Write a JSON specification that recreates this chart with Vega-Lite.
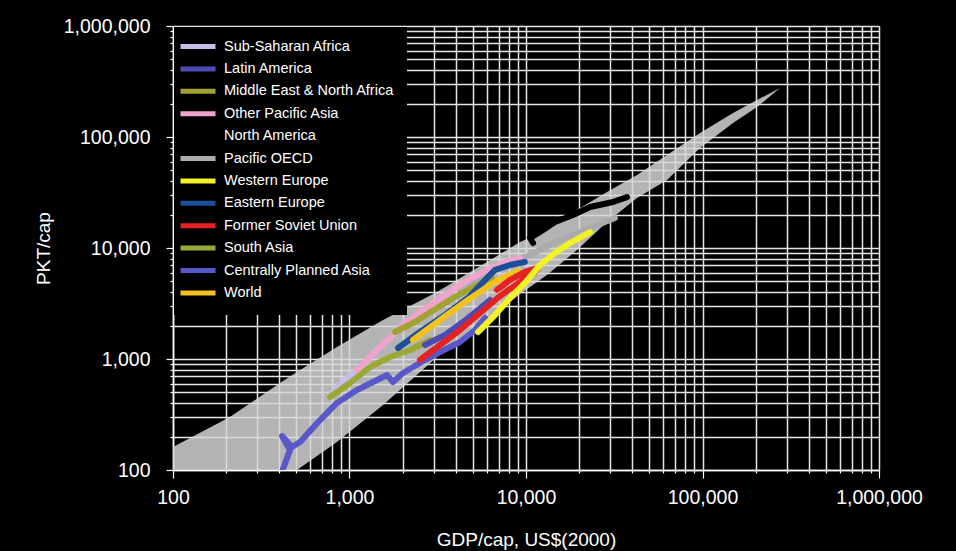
{
  "$schema": "https://vega.github.io/schema/vega-lite/v6.json",
  "width": 706,
  "height": 444,
  "autosize": {"type": "none"},
  "padding": {"left": 173, "top": 26, "right": 77, "bottom": 81},
  "background": "#000000",
  "config": {"view": {"stroke": null}, "font": "Liberation Sans"},
  "datasets": {
    "band": [
      {"gdp": 100, "hi": 161, "lo": 100},
      {"gdp": 210, "hi": 300, "lo": 100},
      {"gdp": 404, "hi": 608, "lo": 100},
      {"gdp": 504, "hi": 764, "lo": 100},
      {"gdp": 849, "hi": 1283, "lo": 179},
      {"gdp": 1549, "hi": 2246, "lo": 385},
      {"gdp": 3130, "hi": 4014, "lo": 1042},
      {"gdp": 6010, "hi": 7480, "lo": 2199},
      {"gdp": 9250, "hi": 11320, "lo": 3850},
      {"gdp": 13150, "hi": 14520, "lo": 5710},
      {"gdp": 19450, "hi": 21990, "lo": 9590},
      {"gdp": 28770, "hi": 31970, "lo": 17150},
      {"gdp": 42560, "hi": 45480, "lo": 28200},
      {"gdp": 62950, "hi": 68860, "lo": 41000},
      {"gdp": 96800, "hi": 108600, "lo": 79600},
      {"gdp": 148900, "hi": 164500, "lo": 133700},
      {"gdp": 203700, "hi": 215400, "lo": 186200},
      {"gdp": 274800, "hi": 276300, "lo": 276300}
    ],
    "lines": [
      {"region": "Pacific OECD", "i": 1, "gdp": 4820, "pkt": 4645},
      {"region": "Pacific OECD", "i": 2, "gdp": 7130, "pkt": 6610},
      {"region": "Pacific OECD", "i": 3, "gdp": 10540, "pkt": 8650},
      {"region": "Pacific OECD", "i": 4, "gdp": 15600, "pkt": 11800},
      {"region": "Pacific OECD", "i": 5, "gdp": 23070, "pkt": 15140},
      {"region": "Pacific OECD", "i": 6, "gdp": 31900, "pkt": 18620},

      {"region": "North America", "i": 1, "gdp": 10960, "pkt": 11090},
      {"region": "North America", "i": 2, "gdp": 10540, "pkt": 12300},
      {"region": "North America", "i": 3, "gdp": 12000, "pkt": 13930},
      {"region": "North America", "i": 4, "gdp": 14600, "pkt": 17150},
      {"region": "North America", "i": 5, "gdp": 18460, "pkt": 19800},
      {"region": "North America", "i": 6, "gdp": 23070, "pkt": 23390},
      {"region": "North America", "i": 7, "gdp": 31120, "pkt": 25940},
      {"region": "North America", "i": 8, "gdp": 37320, "pkt": 28770},

      {"region": "Sub-Saharan Africa", "i": 1, "gdp": 776, "pkt": 474},
      {"region": "Sub-Saharan Africa", "i": 2, "gdp": 944, "pkt": 647},
      {"region": "Sub-Saharan Africa", "i": 3, "gdp": 1146, "pkt": 829},
      {"region": "Sub-Saharan Africa", "i": 4, "gdp": 1393, "pkt": 1156},
      {"region": "Sub-Saharan Africa", "i": 5, "gdp": 1694, "pkt": 1545},
      {"region": "Sub-Saharan Africa", "i": 6, "gdp": 2060, "pkt": 2154},

      {"region": "South Asia", "i": 1, "gdp": 776, "pkt": 455},
      {"region": "South Asia", "i": 2, "gdp": 1006, "pkt": 608},
      {"region": "South Asia", "i": 3, "gdp": 1306, "pkt": 847},
      {"region": "South Asia", "i": 4, "gdp": 1694, "pkt": 1042},
      {"region": "South Asia", "i": 5, "gdp": 2203, "pkt": 1206},
      {"region": "South Asia", "i": 6, "gdp": 2858, "pkt": 1483},

      {"region": "Other Pacific Asia", "i": 1, "gdp": 1102, "pkt": 796},
      {"region": "Other Pacific Asia", "i": 2, "gdp": 1489, "pkt": 1283},
      {"region": "Other Pacific Asia", "i": 3, "gdp": 2009, "pkt": 2024},
      {"region": "Other Pacific Asia", "i": 4, "gdp": 2970, "pkt": 3200},
      {"region": "Other Pacific Asia", "i": 5, "gdp": 4395, "pkt": 4840},
      {"region": "Other Pacific Asia", "i": 6, "gdp": 6010, "pkt": 6340},
      {"region": "Other Pacific Asia", "i": 7, "gdp": 7410, "pkt": 7330},
      {"region": "Other Pacific Asia", "i": 8, "gdp": 9250, "pkt": 8130},

      {"region": "Middle East & North Africa", "i": 1, "gdp": 1811, "pkt": 1750},
      {"region": "Middle East & North Africa", "i": 2, "gdp": 2350, "pkt": 2154},
      {"region": "Middle East & North Africa", "i": 3, "gdp": 3130, "pkt": 2877},
      {"region": "Middle East & North Africa", "i": 4, "gdp": 4227, "pkt": 3853},
      {"region": "Middle East & North Africa", "i": 5, "gdp": 5480, "pkt": 4740},
      {"region": "Middle East & North Africa", "i": 6, "gdp": 6410, "pkt": 5370},

      {"region": "Eastern Europe", "i": 1, "gdp": 1884, "pkt": 1256},
      {"region": "Eastern Europe", "i": 2, "gdp": 2506, "pkt": 1750},
      {"region": "Eastern Europe", "i": 3, "gdp": 3475, "pkt": 2490},
      {"region": "Eastern Europe", "i": 4, "gdp": 4690, "pkt": 3548},
      {"region": "Eastern Europe", "i": 5, "gdp": 5860, "pkt": 5150},
      {"region": "Eastern Europe", "i": 6, "gdp": 6670, "pkt": 6340},
      {"region": "Eastern Europe", "i": 7, "gdp": 8110, "pkt": 7030},
      {"region": "Eastern Europe", "i": 8, "gdp": 9860, "pkt": 7480},

      {"region": "Centrally Planned Asia", "i": 1, "gdp": 420, "pkt": 102},
      {"region": "Centrally Planned Asia", "i": 2, "gdp": 460, "pkt": 151},
      {"region": "Centrally Planned Asia", "i": 3, "gdp": 415, "pkt": 202},
      {"region": "Centrally Planned Asia", "i": 4, "gdp": 472, "pkt": 161},
      {"region": "Centrally Planned Asia", "i": 5, "gdp": 525, "pkt": 179},
      {"region": "Centrally Planned Asia", "i": 6, "gdp": 597, "pkt": 224},
      {"region": "Centrally Planned Asia", "i": 7, "gdp": 681, "pkt": 282},
      {"region": "Centrally Planned Asia", "i": 8, "gdp": 849, "pkt": 402},
      {"region": "Centrally Planned Asia", "i": 9, "gdp": 1102, "pkt": 526},
      {"region": "Centrally Planned Asia", "i": 10, "gdp": 1432, "pkt": 647},
      {"region": "Centrally Planned Asia", "i": 11, "gdp": 1630, "pkt": 718},
      {"region": "Centrally Planned Asia", "i": 12, "gdp": 1762, "pkt": 621},
      {"region": "Centrally Planned Asia", "i": 13, "gdp": 2009, "pkt": 748},
      {"region": "Centrally Planned Asia", "i": 14, "gdp": 2506, "pkt": 921},
      {"region": "Centrally Planned Asia", "i": 15, "gdp": 3260, "pkt": 1156},
      {"region": "Centrally Planned Asia", "i": 16, "gdp": 4227, "pkt": 1422},
      {"region": "Centrally Planned Asia", "i": 17, "gdp": 5140, "pkt": 1824},
      {"region": "Centrally Planned Asia", "i": 18, "gdp": 5860, "pkt": 2340},

      {"region": "Latin America", "i": 1, "gdp": 2680, "pkt": 1337},
      {"region": "Latin America", "i": 2, "gdp": 3475, "pkt": 1644},
      {"region": "Latin America", "i": 3, "gdp": 4395, "pkt": 2154},
      {"region": "Latin America", "i": 4, "gdp": 5345, "pkt": 2762},
      {"region": "Latin America", "i": 5, "gdp": 6250, "pkt": 3404},

      {"region": "World", "i": 1, "gdp": 2290, "pkt": 1483},
      {"region": "World", "i": 2, "gdp": 3260, "pkt": 2246},
      {"region": "World", "i": 3, "gdp": 4510, "pkt": 3268},
      {"region": "World", "i": 4, "gdp": 6250, "pkt": 4645},
      {"region": "World", "i": 5, "gdp": 7600, "pkt": 5480},
      {"region": "World", "i": 6, "gdp": 9020, "pkt": 6210},

      {"region": "Former Soviet Union", "i": 1, "gdp": 2506, "pkt": 979},
      {"region": "Former Soviet Union", "i": 2, "gdp": 3260, "pkt": 1337},
      {"region": "Former Soviet Union", "i": 3, "gdp": 4227, "pkt": 1824},
      {"region": "Former Soviet Union", "i": 4, "gdp": 5480, "pkt": 2594},
      {"region": "Former Soviet Union", "i": 5, "gdp": 7130, "pkt": 3698},
      {"region": "Former Soviet Union", "i": 6, "gdp": 9250, "pkt": 4943},
      {"region": "Former Soviet Union", "i": 7, "gdp": 11250, "pkt": 6080},
      {"region": "Former Soviet Union", "i": 8, "gdp": 11690, "pkt": 6610},
      {"region": "Former Soviet Union", "i": 9, "gdp": 9860, "pkt": 6080},
      {"region": "Former Soviet Union", "i": 10, "gdp": 8110, "pkt": 5150},
      {"region": "Former Soviet Union", "i": 11, "gdp": 6850, "pkt": 4190},

      {"region": "Western Europe", "i": 1, "gdp": 5345, "pkt": 1750},
      {"region": "Western Europe", "i": 2, "gdp": 6670, "pkt": 2490},
      {"region": "Western Europe", "i": 3, "gdp": 8110, "pkt": 3548},
      {"region": "Western Europe", "i": 4, "gdp": 9860, "pkt": 4840},
      {"region": "Western Europe", "i": 5, "gdp": 12000, "pkt": 7030},
      {"region": "Western Europe", "i": 6, "gdp": 14600, "pkt": 9020},
      {"region": "Western Europe", "i": 7, "gdp": 17740, "pkt": 11090},
      {"region": "Western Europe", "i": 8, "gdp": 23070, "pkt": 13930}
    ]
  },
  "layer": [
    {
      "data": {"name": "band"},
      "mark": {"type": "area", "color": "#d6d6d6", "opacity": 0.84, "clip": true},
      "encoding": {
        "x": {
          "field": "gdp", "type": "quantitative",
          "scale": {"type": "log", "domain": [100, 1000000]},
          "axis": {
            "title": "GDP/cap, US$(2000)",
            "values": [100,200,300,400,500,600,700,800,900,1000,2000,3000,4000,5000,6000,7000,8000,9000,10000,20000,30000,40000,50000,60000,70000,80000,90000,100000,200000,300000,400000,500000,600000,700000,800000,900000,1000000],
            "labelExpr": "indexof([100,1000,10000,100000,1000000], datum.value) >= 0 ? format(datum.value, ',') : ''",
            "labelOverlap": false, "labelFlush": false,
            "grid": true, "gridColor": "#e6e6e6", "gridWidth": 1.5, "gridOpacity": 1,
            "domainColor": "#ffffff", "domainWidth": 1.5,
            "tickColor": "#ffffff", "tickWidth": 1.2,
            "tickSize": {"condition": {"test": "indexof([100,1000,10000,100000,1000000], datum.value) >= 0", "value": 8}, "value": 3},
            "labelColor": "#ffffff", "labelFontSize": 19.5, "labelPadding": 10,
            "titleColor": "#ffffff", "titleFontSize": 19, "titleFontWeight": "normal", "titlePadding": 24
          }
        },
        "y": {
          "field": "hi", "type": "quantitative",
          "scale": {"type": "log", "domain": [100, 1000000]},
          "axis": {
            "title": "PKT/cap",
            "values": [100,200,300,400,500,600,700,800,900,1000,2000,3000,4000,5000,6000,7000,8000,9000,10000,20000,30000,40000,50000,60000,70000,80000,90000,100000,200000,300000,400000,500000,600000,700000,800000,900000,1000000],
            "labelExpr": "indexof([100,1000,10000,100000,1000000], datum.value) >= 0 ? format(datum.value, ',') : ''",
            "labelOverlap": false, "labelFlush": false,
            "grid": true, "gridColor": "#e6e6e6", "gridWidth": 1.5, "gridOpacity": 1,
            "domainColor": "#ffffff", "domainWidth": 1.5,
            "tickColor": "#ffffff", "tickWidth": 1.2,
            "tickSize": {"condition": {"test": "indexof([100,1000,10000,100000,1000000], datum.value) >= 0", "value": 7}, "value": 3},
            "labelColor": "#ffffff", "labelFontSize": 19.5, "labelPadding": 16,
            "titleColor": "#ffffff", "titleFontSize": 19, "titleFontWeight": "normal", "titlePadding": 10
          }
        },
        "y2": {"field": "lo"}
      }
    },
    {
      "data": {"name": "lines"},
      "mark": {"type": "line", "strokeWidth": 6, "strokeCap": "round", "strokeJoin": "round", "clip": true},
      "encoding": {
        "x": {"field": "gdp", "type": "quantitative"},
        "y": {"field": "pkt", "type": "quantitative"},
        "order": {"field": "i"},
        "color": {
          "field": "region", "type": "nominal",
          "scale": {
            "domain": ["Sub-Saharan Africa", "Latin America", "Middle East & North Africa", "Other Pacific Asia", "North America", "Pacific OECD", "Western Europe", "Eastern Europe", "Former Soviet Union", "South Asia", "Centrally Planned Asia", "World"],
            "range": ["#c8bce8", "#4c4cb4", "#a2a232", "#f0a4cc", "#000000", "#ababab", "#f2f226", "#1c4e9a", "#e42222", "#9ca834", "#5858c8", "#f4c21e"]
          },
          "legend": {
            "title": null, "orient": "top-left", "offset": 1, "padding": 12,
            "fillColor": "#000000",
            "labelColor": "#ffffff", "labelFontSize": 14.5, "labelLimit": 300,
            "symbolType": "M-2.6,0L4.4,0", "symbolSize": 100, "symbolStrokeWidth": 5,
            "labelOffset": 23, "rowPadding": 1.4
          }
        }
      }
    }
  ]
}
